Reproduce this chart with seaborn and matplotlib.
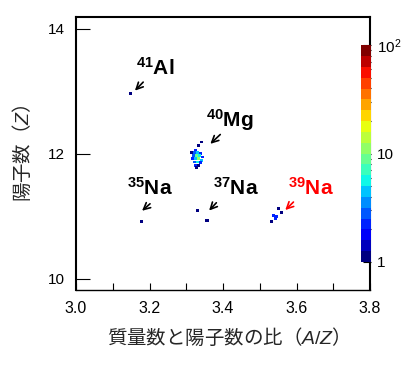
import numpy as np
import pandas as pd
import seaborn as sns
import matplotlib
matplotlib.use('Agg')
import matplotlib.pyplot as plt
from matplotlib.colors import LogNorm
from matplotlib.cm import ScalarMappable

# events per bin (A/Z, Z, counts)
aoz = [3.147, 3.178, 3.330, 3.354, 3.359,
       3.341, 3.332, 3.324, 3.322, 3.330, 3.338, 3.319, 3.327, 3.335, 3.343,
       3.316, 3.324, 3.332, 3.341, 3.322, 3.330, 3.338, 3.324, 3.332, 3.327, 3.313,
       3.550, 3.559, 3.537, 3.545, 3.542, 3.531]
z = [12.96, 10.91, 11.09, 10.93, 10.93,
     12.19, 12.13, 12.06, 12.02, 12.02, 12.00, 11.97, 11.97, 11.97, 11.95,
     11.92, 11.92, 11.92, 11.90, 11.87, 11.87, 11.86, 11.82, 11.81, 11.78, 12.02,
     11.12, 11.06, 11.01, 10.99, 10.96, 10.91]
counts = [1, 1, 1, 1, 1,
          1, 1, 2, 3, 4, 2, 3, 8, 6, 2,
          2, 5, 12, 4, 3, 6, 2, 2, 1, 1, 1,
          1, 1, 2, 2, 2, 1]

labels = [r'$^{\mathbf{41}}$Al', r'$^{\mathbf{40}}$Mg', r'$^{\mathbf{35}}$Na',
          r'$^{\mathbf{37}}$Na', r'$^{\mathbf{39}}$Na']
label_xy = [(3.215, 13.38), (3.42, 12.54), (3.20, 11.46), (3.436, 11.46), (3.638, 11.46)]
arrow_from = [(3.188, 13.18), (3.398, 12.34), (3.207, 11.23), (3.387, 11.25), (3.597, 11.26)]
arrow_to = [(3.155, 12.98), (3.360, 12.13), (3.174, 11.06), (3.357, 11.06), (3.564, 11.07)]
label_colors = ['black', 'black', 'black', 'black', 'red']

df = pd.DataFrame({'aoz': aoz, 'z': z, 'counts': counts})

sns.set_style('ticks')
plt.rcParams['font.family'] = ['Liberation Sans', 'Noto Sans CJK JP']
plt.rcParams['mathtext.fontset'] = 'custom'
plt.rcParams['mathtext.rm'] = 'Liberation Sans'
plt.rcParams['mathtext.it'] = 'Liberation Sans:italic'
plt.rcParams['mathtext.bf'] = 'Liberation Sans:bold'
plt.rcParams['axes.edgecolor'] = 'black'
plt.rcParams['xtick.color'] = 'black'
plt.rcParams['ytick.color'] = 'black'
plt.rcParams['xtick.direction'] = 'in'
plt.rcParams['ytick.direction'] = 'in'

cmap = plt.get_cmap('jet', 20)
norm = LogNorm(1, 100)

fig = plt.figure(figsize=(4.2, 3.7), dpi=100)
ax = fig.add_axes([0.181, 0.216, 0.700, 0.738])

sns.scatterplot(data=df, x='aoz', y='z', hue='counts', palette=cmap, hue_norm=norm,
                marker='s', s=4.5, linewidth=0, legend=False, ax=ax)

ax.set_xlim(3.0, 3.8)
ax.set_ylim(9.82, 14.19)
ax.set_xticks([3.0, 3.2, 3.4, 3.6, 3.8])
ax.set_xticks(np.arange(3.1, 3.8, 0.2), minor=True)
ax.set_yticks([10, 12, 14])
ax.tick_params(axis='x', which='both', direction='in', length=5, width=0.8, labelsize=11.5, pad=8)
ax.tick_params(axis='y', which='major', direction='in', length=10, width=0.8, labelsize=11, pad=8)
for sp in ax.spines.values():
    sp.set_linewidth(1.5)
    sp.set_color('black')
ax.spines['bottom'].set_linewidth(1.0)

ax.set_xlabel('質量数と陽子数の比（$A/Z$）', family='Noto Sans CJK JP', fontsize=14, labelpad=8)
ax.set_ylabel('陽子数（$Z$）', family='Noto Sans CJK JP', fontsize=14, labelpad=10)

for lab, lxy, a0, a1, c in zip(labels, label_xy, arrow_from, arrow_to, label_colors):
    ax.text(lxy[0], lxy[1], lab, color=c, fontsize=15, fontweight='bold',
            ha='center', va='center')
    ax.annotate('', xy=a1, xytext=a0,
                arrowprops=dict(arrowstyle='->', color=c, lw=1.2, mutation_scale=12))

cax = fig.add_axes([0.860, 0.292, 0.024, 0.586])
cb = fig.colorbar(ScalarMappable(norm=norm, cmap=cmap), cax=cax)
cb.outline.set_visible(False)
cb.set_ticks([1, 10, 100])
cb.set_ticklabels(['1', '10', r'10$^2$'])
cax.tick_params(which='both', direction='in', left=False, right=True, labelsize=11, width=0.8, pad=4)
cax.tick_params(which='major', length=6)
cax.tick_params(which='minor', length=3)

fig.savefig('out.png', dpi=100)
